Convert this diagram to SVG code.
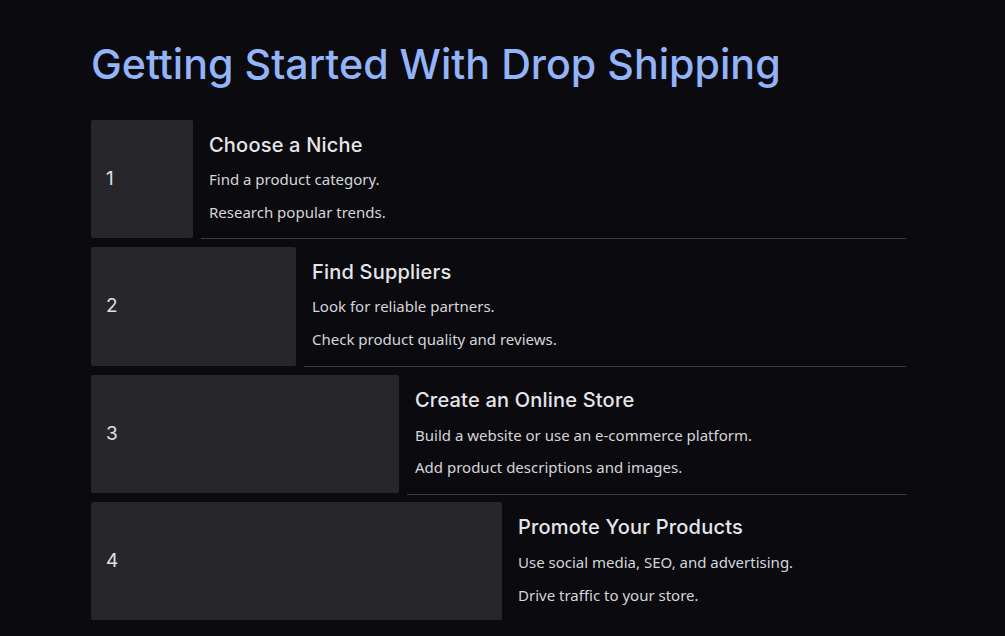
<svg xmlns="http://www.w3.org/2000/svg" width="1005" height="636" viewBox="0 0 1005 636">
<style>
.bg{fill:#0a0a0f}
.title{font-family:Inter,"Liberation Sans",sans-serif;font-size:41.2px;fill:#93b4f8;font-weight:500}
.box{fill:#27272b}
.num{font-family:Inter,"Liberation Sans",sans-serif;font-size:19px;fill:#e0e0e4}
.head{font-family:Inter,"Liberation Sans",sans-serif;font-size:20px;fill:#e6e6ea;font-weight:500;letter-spacing:0.2px}
.body{font-family:"Noto Sans","Liberation Sans",sans-serif;font-size:15px;fill:#d6d6da}
.sep{stroke:#3a3a40;stroke-width:1.2}
</style>
<rect class="bg" x="0" y="0" width="1005" height="636"/>
<text class="title" x="91" y="79">Getting Started With Drop Shipping</text>
<g id="connectors">
<line class="sep" x1="201" y1="238.5" x2="906" y2="238.5"/>
<line class="sep" x1="304" y1="366.5" x2="906" y2="366.5"/>
<line class="sep" x1="407" y1="494.5" x2="907" y2="494.5"/>
</g>
<g id="step1">
<rect class="box" x="91" y="120" width="102" height="118" rx="2"/>
<text class="num" x="106" y="185">1</text>
<text class="head" x="209" y="152">Choose a Niche</text>
<text class="body" x="209" y="185">Find a product category.</text>
<text class="body" x="209" y="218">Research popular trends.</text>
</g>
<g id="step2">
<rect class="box" x="91" y="247" width="205" height="119" rx="2"/>
<text class="num" x="106" y="312">2</text>
<text class="head" x="312" y="279">Find Suppliers</text>
<text class="body" x="312" y="312">Look for reliable partners.</text>
<text class="body" x="312" y="345">Check product quality and reviews.</text>
</g>
<g id="step3">
<rect class="box" x="91" y="375" width="308" height="118" rx="2"/>
<text class="num" x="106" y="440">3</text>
<text class="head" x="415" y="407">Create an Online Store</text>
<text class="body" x="415" y="441">Build a website or use an e-commerce platform.</text>
<text class="body" x="415" y="473">Add product descriptions and images.</text>
</g>
<g id="step4">
<rect class="box" x="91" y="502" width="411" height="118" rx="2"/>
<text class="num" x="106" y="567">4</text>
<text class="head" x="518" y="534">Promote Your Products</text>
<text class="body" x="518" y="568">Use social media, SEO, and advertising.</text>
<text class="body" x="518" y="601">Drive traffic to your store.</text>
</g>
</svg>
